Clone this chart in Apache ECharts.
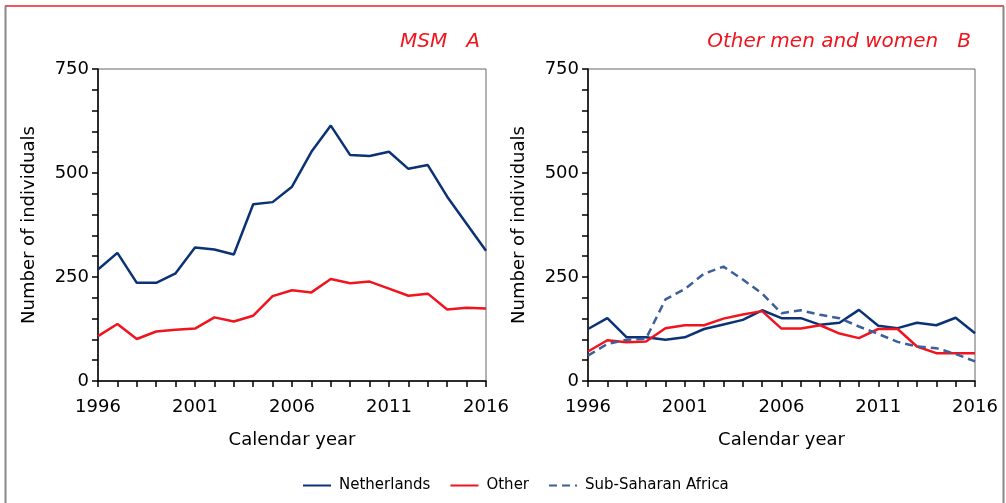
<!DOCTYPE html>
<html>
<head>
<meta charset="utf-8">
<script src="https://cdn.jsdelivr.net/npm/echarts@6/dist/echarts.min.js"></script>
<style>
  html, body { margin: 0; padding: 0; background: #fff; }
  #chart { width: 1006px; height: 503px; }
</style>
</head>
<body>
<div id="chart"></div>
<script>
const years = []
for (let y = 1996; y <= 2016; y++) years.push(String(y))

// panel A: MSM
const msmNetherlands = [268, 308, 236, 236, 259, 321, 316, 304, 425, 430, 467, 551, 614, 543, 541, 551, 510, 519, 443, 378, 313]
const msmOther = [108, 137, 101, 119, 123, 126, 153, 143, 157, 204, 218, 213, 245, 235, 239, 222, 205, 210, 172, 176, 174]

// panel B: other men and women
const otherNetherlands = [125, 151, 105, 105, 99, 105, 125, 136, 147, 170, 151, 151, 135, 140, 171, 133, 127, 140, 134, 152, 115]
const otherOther = [71, 98, 93, 95, 127, 134, 134, 150, 160, 168, 126, 126, 134, 114, 103, 125, 125, 83, 67, 67, 67]
const otherSSA = [61, 89, 99, 102, 196, 221, 258, 275, 244, 210, 163, 170, 159, 151, 131, 113, 94, 83, 79, 65, 47]

const yTicks = [0, 250, 500, 750]

const NAVY = '#0b3274'
const RED = '#f0141e'
const DASH = '#3c5e9c'
const FONT = 'DejaVu Sans'

function xAxis(gridIndex) {
  return {
    type: 'category',
    gridIndex,
    data: years,
    boundaryGap: false,
    name: 'Calendar year',
    nameLocation: 'middle',
    nameGap: 50,
    nameTextStyle: { fontFamily: FONT, fontSize: 18, color: '#000' },
    axisLine: { lineStyle: { color: '#000', width: 1.5 } },
    axisTick: { interval: 0, length: 6, lineStyle: { color: '#000', width: 1.5 } },
    axisLabel: { interval: 4, margin: 17, fontFamily: FONT, fontSize: 18, color: '#000' },
    splitLine: { show: false }
  }
}

function yAxis(gridIndex) {
  return {
    type: 'value',
    gridIndex,
    min: yTicks[0],
    max: yTicks[yTicks.length - 1],
    interval: 250,
    name: 'Number of individuals',
    nameLocation: 'middle',
    nameGap: 60,
    nameTextStyle: { fontFamily: FONT, fontSize: 18, color: '#000' },
    axisLine: { show: true, lineStyle: { color: '#000', width: 1.5 } },
    axisTick: { show: true, length: 6, lineStyle: { color: '#000', width: 1.5 } },
    minorTick: { show: true, splitNumber: 5, length: 6, lineStyle: { color: '#000', width: 1.5 } },
    axisLabel: { margin: 9, fontFamily: FONT, fontSize: 18, color: '#000' },
    splitLine: { show: false }
  }
}

function line(name, data, idx, color, dashed) {
  return {
    name,
    type: 'line',
    xAxisIndex: idx,
    yAxisIndex: idx,
    data,
    symbol: 'none',
    lineStyle: { color, width: 2.5, type: dashed ? [8, 5] : 'solid' },
    itemStyle: { color },
    animation: false
  }
}

const titleStyle = { fontFamily: FONT, fontSize: 20, fontStyle: 'italic', fontWeight: 'normal', color: RED }

const chart = echarts.init(document.getElementById('chart'))
chart.setOption({
  backgroundColor: '#fff',
  title: [
    { text: 'MSM   A', right: 521, top: 27, textStyle: titleStyle },
    { text: 'Other men and women   B', right: 30, top: 27, textStyle: titleStyle }
  ],
  legend: {
    bottom: 5,
    left: 297,
    itemWidth: 28,
    itemHeight: 12,
    itemGap: 19,
    itemStyle: { opacity: 0 },
    textStyle: { fontFamily: FONT, fontSize: 15, color: '#000', padding: [0, 0, 3, 3] },
    data: ['Netherlands', 'Other', 'Sub-Saharan Africa']
  },
  grid: [
    { left: 98, top: 69, width: 388, height: 312, show: true, borderColor: '#666', borderWidth: 1 },
    { left: 588, top: 69, width: 387, height: 312, show: true, borderColor: '#666', borderWidth: 1 }
  ],
  xAxis: [xAxis(0), xAxis(1)],
  yAxis: [yAxis(0), yAxis(1)],
  series: [
    line('Netherlands', msmNetherlands, 0, NAVY),
    line('Other', msmOther, 0, RED),
    line('Netherlands', otherNetherlands, 1, NAVY),
    line('Other', otherOther, 1, RED),
    line('Sub-Saharan Africa', otherSSA, 1, DASH, true)
  ],
  graphic: [
    { type: 'line', shape: { x1: 5, y1: 6, x2: 1004, y2: 6 }, style: { stroke: '#ee1c25', lineWidth: 1.5 } },
    { type: 'line', shape: { x1: 5.5, y1: 6, x2: 5.5, y2: 503 }, style: { stroke: '#888', lineWidth: 2 } },
    { type: 'line', shape: { x1: 1003.5, y1: 6, x2: 1003.5, y2: 503 }, style: { stroke: '#888', lineWidth: 2 } }
  ]
})
</script>
</body>
</html>
